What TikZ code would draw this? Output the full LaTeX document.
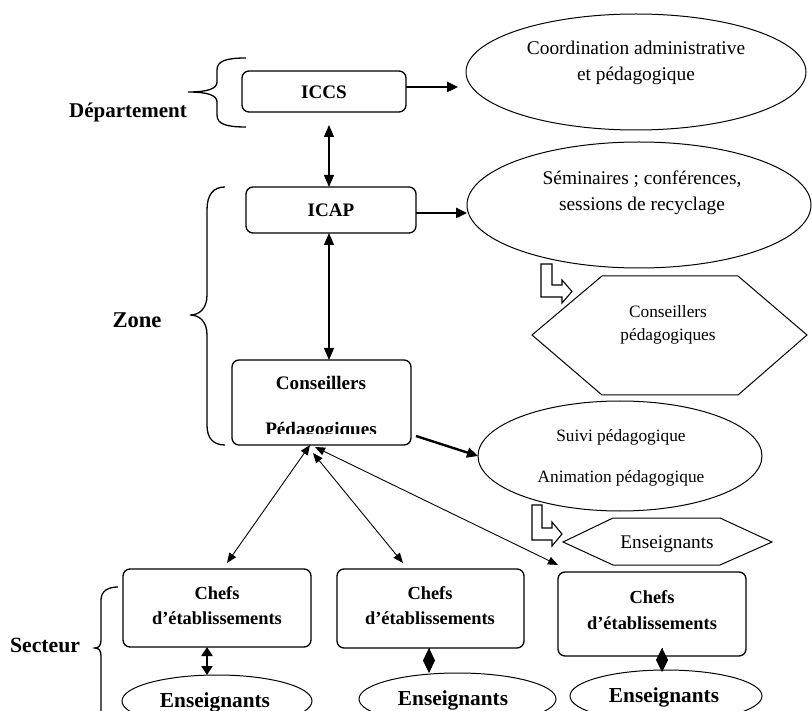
\documentclass[tikz,border=0pt]{standalone}
\usepackage{fontspec}
\setmainfont{Liberation Serif}
\usetikzlibrary{arrows.meta,shapes.geometric}
\begin{document}
\begin{tikzpicture}[x=1pt,y=-1pt,
  box/.style={draw, line width=1.3pt, rounded corners=7pt, inner sep=0pt, outer sep=0pt},
  oval/.style={draw, ellipse, line width=1pt, inner sep=0pt, outer sep=0pt},
  hexa/.style={draw, line width=1pt, line join=miter},
  hollow/.style={draw, fill=white, line width=1.1pt, line join=miter},
  brace/.style={draw, line width=1.3pt},
  txt/.style={inner sep=0pt, anchor=base},
  regA/.style={font=\fontsize{19.4}{26}\selectfont},
  regB/.style={font=\fontsize{17.3}{22}\selectfont},
  regC/.style={font=\fontsize{19.3}{23}\selectfont},
  bfA/.style={font=\fontsize{19.1}{23}\selectfont\bfseries},
  bfB/.style={font=\fontsize{18.4}{23}\selectfont\bfseries},
  bfC/.style={font=\fontsize{21.3}{25}\selectfont\bfseries},
  bfD/.style={font=\fontsize{21.3}{25}\selectfont\bfseries},
  bfZ/.style={font=\fontsize{22.6}{26}\selectfont\bfseries},
  dblA/.style={line width=1.2pt, {Triangle[length=12pt,width=10pt]}-{Triangle[length=12pt,width=10pt]}},
  dblB/.style={line width=0.9pt, {Triangle[length=10pt,width=8pt]}-{Triangle[length=10pt,width=8pt]}},
  dblC/.style={line width=2.2pt, {Triangle[length=9pt,width=11pt]}-{Triangle[length=9pt,width=11pt]}},
  thk/.style={line width=2.4pt, -{Triangle[length=11pt,width=10pt]}},
  diam/.style={line width=0.8pt, -{Diamond[length=#1,width=12pt]}},
]
\clip (0,0) rectangle (812,711);
\fill[white] (0,0) rectangle (812,711);

% boxes
\node[box, minimum width=164pt, minimum height=41pt] (iccs) at (324,91.5) {};
\node[box, minimum width=170pt, minimum height=46pt] (icap) at (331,210) {};
\node[box, minimum width=179pt, minimum height=85pt] (cons) at (321.5,402.5) {};
\node[box, minimum width=188pt, minimum height=78pt] (chefsA) at (217,608) {};
\node[box, minimum width=187pt, minimum height=79pt] (chefsB) at (430.5,608.5) {};
\node[box, minimum width=188pt, minimum height=84pt] (chefsC) at (652,614) {};

% ellipses
\node[oval, minimum width=340pt, minimum height=116pt] (coord) at (636,72) {};
\node[oval, minimum width=344pt, minimum height=126pt] (semi) at (639,205) {};
\node[oval, minimum width=284pt, minimum height=110pt] (suivi) at (620,456) {};
\node[oval, minimum width=190pt, minimum height=52pt] (ensA) at (217,701) {};
\node[oval, minimum width=197pt, minimum height=52pt] (ensB) at (457.5,699) {};
\node[oval, minimum width=192pt, minimum height=52pt] (ensC) at (666,696) {};

% hexagons
\draw[hexa] (532,335) -- (602,276) -- (738,276) -- (807,335) -- (738,395) -- (602,395) -- cycle;
\coordinate (hexA) at (669.5,335.5);
\draw[hexa] (563,542) -- (613,518) -- (720,518) -- (772,542) -- (720,565) -- (613,565) -- cycle;
\coordinate (hexB) at (667.5,541.5);

% hollow L arrows
\draw[hollow] (541,264) -- (552,264) -- (552,285) -- (562,285) -- (562,280) -- (572,291.5) -- (562,303) -- (562,297) -- (541,297) -- cycle;
\draw[hollow] (532,505) -- (542,505) -- (542,528) -- (552,528) -- (552,522) -- (562,534) -- (552,546) -- (552,540) -- (532,540) -- cycle;

% braces
\draw[brace] (246,58) .. controls (226,58) and (217,61) .. (217,70) -- (217,82)
  .. controls (217,89) and (207,92) .. (188,92)
  .. controls (207,92) and (217,95) .. (217,102) -- (217,115)
  .. controls (217,124) and (226,127) .. (246,127);
\draw[brace] (225,187) .. controls (213,187) and (207,195) .. (207,210) -- (207,295)
  .. controls (207,308) and (200,315) .. (190,315)
  .. controls (200,315) and (207,322) .. (207,335) -- (207,425)
  .. controls (207,438) and (213,445) .. (225,445);
\draw[brace] (118,587) .. controls (108,587) and (101,591) .. (101,600) -- (101,640)
  .. controls (101,645) and (99,648) .. (95,648)
  .. controls (99,648) and (101,651) .. (101,656) -- (101,720);

% connectors
\draw[dblA, shorten <=13pt] ([xshift=5pt]iccs.south) -- ([xshift=-2pt]icap.north);
\draw[dblA] ([xshift=-2pt]icap.south) -- ([xshift=7.5pt]cons.north);
\draw[thk, shorten >=8pt] ([yshift=4.5pt]iccs.east) -- ([yshift=4.5pt]iccs.east -| coord.west);
\draw[thk] ([yshift=-3pt]icap.east) -- ([yshift=-3pt]icap.east -| semi.west);
\draw[thk] ([xshift=5pt,yshift=9pt]cons.south east) -- (suivi.west);
\draw[dblB] ([xshift=-11.5pt]cons.south) -- ([xshift=10pt,yshift=6pt]chefsA.north);
\draw[dblB] ([xshift=-8.5pt,yshift=-8pt]cons.south) -- ([xshift=-27.5pt,yshift=6pt]chefsB.north);
\draw[dblB] ([xshift=-6.5pt,yshift=-2pt]cons.south) -- ([yshift=7pt]chefsC.north west);
\draw[dblC] ([xshift=-10pt]chefsA.south) -- ([xshift=-10pt]chefsA.south |- ensA.north);
\draw[diam=25pt] ([xshift=-1.5pt]chefsB.south) -- ([xshift=-1.5pt]chefsB.south |- ensB.north);
\draw[diam=24pt] ([xshift=10pt,yshift=8pt]chefsC.south) -- ([xshift=10pt,yshift=-2pt]chefsC.south |- ensC.north);

% texts
\node[txt,bfA] (tIccs) at (324,98.3) {ICCS};
\node[txt,bfA] (tIcap) at (331,216.3) {ICAP};
\node[txt,bfA] (tCons1) at (321,389.3) {Conseillers};
\begin{scope}
  \clip (232,400) rectangle (411,433.5);
  \node[txt,bfA] (tCons2) at (321,435.5) {Pédagogiques};
\end{scope}
\node[txt,bfB] (tChA1) at (217,599) {Chefs};
\node[txt,bfB] (tChA2) at (217,624) {d’établissements};
\node[txt,bfB] (tChB1) at (430,599) {Chefs};
\node[txt,bfB] (tChB2) at (430,624) {d’établissements};
\node[txt,bfB] (tChC1) at (652,603) {Chefs};
\node[txt,bfB] (tChC2) at (652,629) {d’établissements};
\node[txt,bfC] (tEnA) at (215,707) {Enseignants};
\node[txt,bfC] (tEnB) at (453,705) {Enseignants};
\node[txt,bfC] (tEnC) at (664,702) {Enseignants};

\node[txt,regA] (tCo1) at (636,54.5) {Coordination administrative};
\node[txt,regA] (tCo2) at (636,80.5) {et pédagogique};
\node[txt,regA] (tSe1) at (642,184.5) {Séminaires ; conférences,};
\node[txt,regA] (tSe2) at (642,210.5) {sessions de recyclage};
\node[txt,regB] (tHx1) at (668,317.7) {Conseillers};
\node[txt,regB] (tHx2) at (668,340.7) {pédagogiques};
\node[txt,regB] (tSu1) at (621,441.7) {Suivi pédagogique};
\node[txt,regB] (tSu2) at (621,482.7) {Animation pédagogique};
\node[txt,regC] (tHx3) at (667,548.4) {Enseignants};

\node[txt,bfD,font=\fontsize{21}{25}\selectfont\bfseries] (tDep) at (128,118) {Département};
\node[txt,bfZ] (tZone) at (137,327.5) {Zone};
\node[txt,font=\fontsize{21.7}{25}\selectfont\bfseries] (tSect) at (45,652) {Secteur};
\end{tikzpicture}
\end{document}
